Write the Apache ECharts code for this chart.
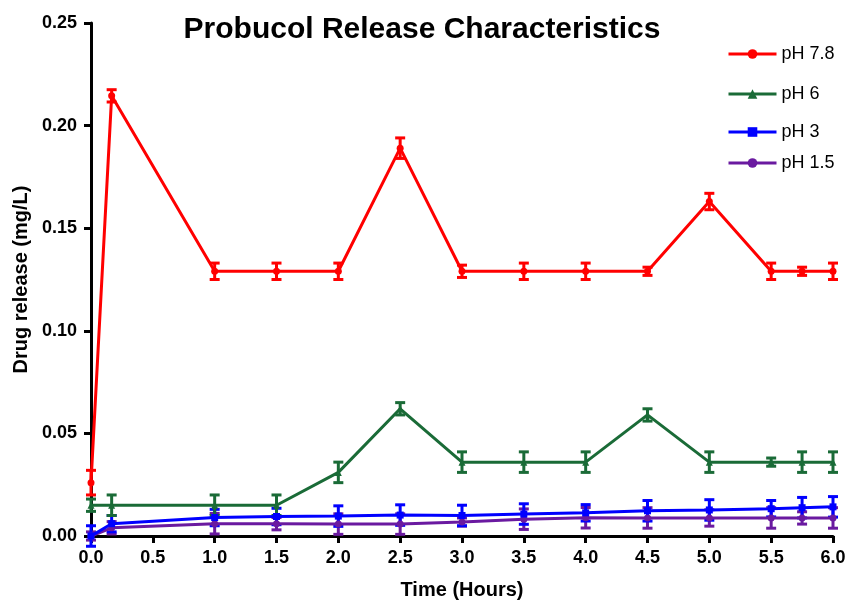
<!DOCTYPE html>
<html>
<head>
<meta charset="utf-8">
<script src="https://cdn.jsdelivr.net/npm/echarts@6/dist/echarts.min.js"></script>
<style>
html,body{margin:0;padding:0;background:#fff;}
#chart{width:849px;height:602px;}
</style>
</head>
<body>
<div id="chart"></div>
<script>
const timeHours = [0, 0.167, 1, 1.5, 2, 2.5, 3, 3.5, 4, 4.5, 5, 5.5, 5.75, 6];
const ph78 = [0.026, 0.2145, 0.129, 0.129, 0.129, 0.189, 0.129, 0.129, 0.129, 0.129, 0.163, 0.129, 0.129, 0.129];
const ph78Err = [0.006, 0.003, 0.004, 0.004, 0.004, 0.005, 0.003, 0.004, 0.004, 0.002, 0.004, 0.004, 0.002, 0.004];
const ph6 = [0.015, 0.015, 0.015, 0.015, 0.031, 0.062, 0.036, 0.036, 0.036, 0.059, 0.036, 0.036, 0.036, 0.036];
const ph6Err = [0.003, 0.005, 0.005, 0.005, 0.005, 0.003, 0.005, 0.005, 0.005, 0.003, 0.005, 0.002, 0.005, 0.005];
const ph3 = [0, 0.006, 0.009, 0.0095, 0.0097, 0.0102, 0.010, 0.0107, 0.0113, 0.0123, 0.0127, 0.0133, 0.0138, 0.0142];
const ph3Err = [0.005, 0.004, 0.004, 0.004, 0.005, 0.005, 0.005, 0.005, 0.004, 0.005, 0.005, 0.004, 0.005, 0.005];
const ph15 = [0, 0.004, 0.006, 0.006, 0.0058, 0.0058, 0.0068, 0.0082, 0.0089, 0.0088, 0.0088, 0.0088, 0.0088, 0.0088];
const ph15Err = [0.002, 0.003, 0.005, 0.003, 0.005, 0.005, 0.002, 0.005, 0.005, 0.005, 0.004, 0.005, 0.003, 0.005];

const seriesNames = ['pH 7.8', 'pH 6', 'pH 3', 'pH 1.5'];
const seriesColors = ['#ff0000', '#1a6b37', '#0000ff', '#6a1aa0'];
const seriesSymbols = ['circle', 'triangle', 'rect', 'circle'];
const seriesValues = [ph78, ph6, ph3, ph15];
const seriesErrors = [ph78Err, ph6Err, ph3Err, ph15Err];
const xTicks = ['0.0','0.5','1.0','1.5','2.0','2.5','3.0','3.5','4.0','4.5','5.0','5.5','6.0'];

const chart = echarts.init(document.getElementById('chart'));
const font = 'Liberation Sans, Arial, Helvetica, sans-serif';

function errorRender(color) {
  return function (params, api) {
    const x = api.value(0), lo = api.value(1), hi = api.value(2);
    const pHi = api.coord([x, hi]);
    const pLo = api.coord([x, lo]);
    const w = 5;
    const style = { stroke: color, lineWidth: 3 };
    return {
      type: 'group',
      children: [
        { type: 'line', shape: { x1: pHi[0], y1: pHi[1], x2: pLo[0], y2: pLo[1] }, style: style },
        { type: 'line', shape: { x1: pHi[0] - w, y1: pHi[1], x2: pHi[0] + w, y2: pHi[1] }, style: style },
        { type: 'line', shape: { x1: pLo[0] - w, y1: pLo[1], x2: pLo[0] + w, y2: pLo[1] }, style: style }
      ]
    };
  };
}

const series = [];
const legendTops = [40, 80, 118, 149];
const legends = [];
for (let i = seriesNames.length - 1; i >= 0; i--) {
  series.push({
    type: 'custom',
    name: seriesNames[i] + ' error',
    renderItem: errorRender(seriesColors[i]),
    itemStyle: { color: seriesColors[i] },
    data: timeHours.map((t, k) => [t, seriesValues[i][k] - seriesErrors[i][k], seriesValues[i][k] + seriesErrors[i][k]]),
    clip: false,
    z: 3
  });
  series.push({
    type: 'line',
    name: seriesNames[i],
    data: timeHours.map((t, k) => [t, seriesValues[i][k]]),
    symbol: seriesSymbols[i],
    symbolSize: 7,
    showSymbol: true,
    color: seriesColors[i],
    lineStyle: { width: 3, color: seriesColors[i] },
    itemStyle: { color: seriesColors[i] },
    clip: false,
    z: 4
  });
}
for (let i = 0; i < seriesNames.length; i++) {
  legends.push({
    data: [seriesNames[i]],
    orient: 'vertical',
    left: 722,
    top: legendTops[i],
    itemWidth: 48,
    itemHeight: 12,
    itemGap: 0,
    lineStyle: { width: 3 },
    textStyle: { fontFamily: font, fontSize: 18, color: '#000' },
    selectedMode: false
  });
}

chart.setOption({
  animation: false,
  backgroundColor: '#fff',
  title: {
    text: 'Probucol Release Characteristics',
    left: 417,
    textAlign: 'center',
    top: 10,
    textStyle: { fontFamily: font, fontSize: 30, fontWeight: 'bold', color: '#000' }
  },
  legend: legends,
  grid: { left: 91, right: 16, top: 23, bottom: 66, containLabel: false, outerBoundsMode: 'none' },
  xAxis: {
    type: 'value',
    min: 0, max: 6, interval: 0.5,
    name: 'Time (Hours)',
    nameLocation: 'middle',
    nameGap: 44,
    nameTextStyle: { fontFamily: font, fontSize: 20, fontWeight: 'bold', color: '#000' },
    axisLine: { show: true, onZero: false, lineStyle: { color: '#000', width: 3 } },
    axisTick: { show: true, length: 7, lineStyle: { color: '#000', width: 3 } },
    axisLabel: {
      fontFamily: font, fontSize: 18, fontWeight: 'bold', color: '#000', margin: 13,
      formatter: function (v) { return xTicks[Math.round(v / 0.5)]; }
    },
    splitLine: { show: false }
  },
  yAxis: {
    type: 'value',
    min: 0, max: 0.25, interval: 0.05,
    name: 'Drug release (mg/L)',
    nameLocation: 'middle',
    nameGap: 59,
    nameTextStyle: { fontFamily: font, fontSize: 20, fontWeight: 'bold', color: '#000' },
    axisLine: { show: true, lineStyle: { color: '#000', width: 3 } },
    axisTick: { show: true, length: 7, lineStyle: { color: '#000', width: 3 } },
    axisLabel: {
      fontFamily: font, fontSize: 18, fontWeight: 'bold', color: '#000', margin: 14,
      formatter: function (v) { return v.toFixed(2); }
    },
    splitLine: { show: false }
  },
  series: series
});
</script>
</body>
</html>
